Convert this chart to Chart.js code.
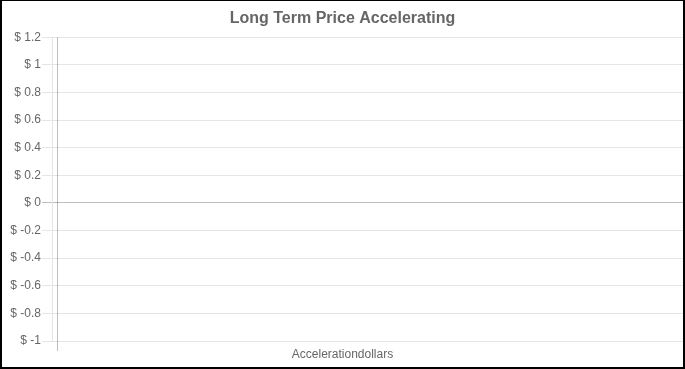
<!DOCTYPE html>
<html>
<head>
<meta charset="utf-8">
<script src="https://cdn.jsdelivr.net/npm/chart.js@4/dist/chart.umd.min.js"></script>
<style>
html,body{margin:0;padding:0;background:#fff;}
#wrap{width:685px;height:369px;box-sizing:border-box;border:solid #000;border-width:1px 2px 2px 2px;background:#fff;}
#wrap canvas{display:block;}
</style>
</head>
<body>
<div id="wrap"><canvas id="c" width="681" height="366"></canvas></div>
<script>
// ---- data ----
const chartTitle = 'Long Term Price Accelerating';
const categories = ['Accelerationdollars'];
const seriesValues = [];            // the reference shows no plotted values
const yTickValues = [1.2, 1, 0.8, 0.6, 0.4, 0.2, 0, -0.2, -0.4, -0.6, -0.8, -1];
const yMin = -1;
const yMax = 1.2;

Chart.defaults.font.family = "'Liberation Sans', Arial, Helvetica, sans-serif";
Chart.defaults.color = '#666';

const gridLight = 'rgba(0,0,0,0.1)';
const gridZero = 'rgba(0,0,0,0.25)';

new Chart(document.getElementById('c'), {
  type: 'line',
  data: {
    datasets: [{
      label: categories[0],
      data: seriesValues,
      borderColor: 'rgba(54,162,235,1)',
      backgroundColor: 'rgba(54,162,235,0.2)'
    }]
  },
  options: {
    responsive: false,
    animation: false,
    layout: { padding: 0 },
    plugins: {
      legend: { display: false },
      tooltip: { enabled: false },
      title: {
        display: true,
        text: chartTitle,
        color: '#666',
        font: { size: 16, weight: 'bold' },
        padding: { top: 8, bottom: 9 }
      },
      subtitle: {
        display: true,
        position: 'bottom',
        text: categories[0],
        color: '#666',
        font: { size: 12, weight: 'normal', lineHeight: '8px' },
        padding: { top: 0, bottom: 8 }
      }
    },
    scales: {
      x: {
        type: 'linear',
        min: -0.008,
        max: 1,
        afterBuildTicks: s => { s.ticks = [{ value: 0 }]; },
        ticks: { display: false },
        border: { display: false },
        grid: {
          color: ctx => (ctx.tick && ctx.tick.value === 0) ? gridZero : 'rgba(0,0,0,0)',
          tickLength: 10,
          drawTicks: true
        }
      },
      y: {
        type: 'linear',
        min: yMin,
        max: yMax,
        afterBuildTicks: s => { s.ticks = yTickValues.map(v => ({ value: v })); },
        afterFit: s => { s.width = 50; },
        ticks: {
          padding: 1,
          font: { size: 12 },
          color: '#666',
          callback: v => '$ ' + (Math.round(v * 10) / 10)
        },
        border: { display: true, color: gridLight, width: 1 },
        grid: {
          color: ctx => (ctx.tick && ctx.tick.value === 0) ? gridZero : gridLight,
          tickLength: 10,
          drawTicks: true
        }
      }
    }
  }
});
</script>
</body>
</html>
